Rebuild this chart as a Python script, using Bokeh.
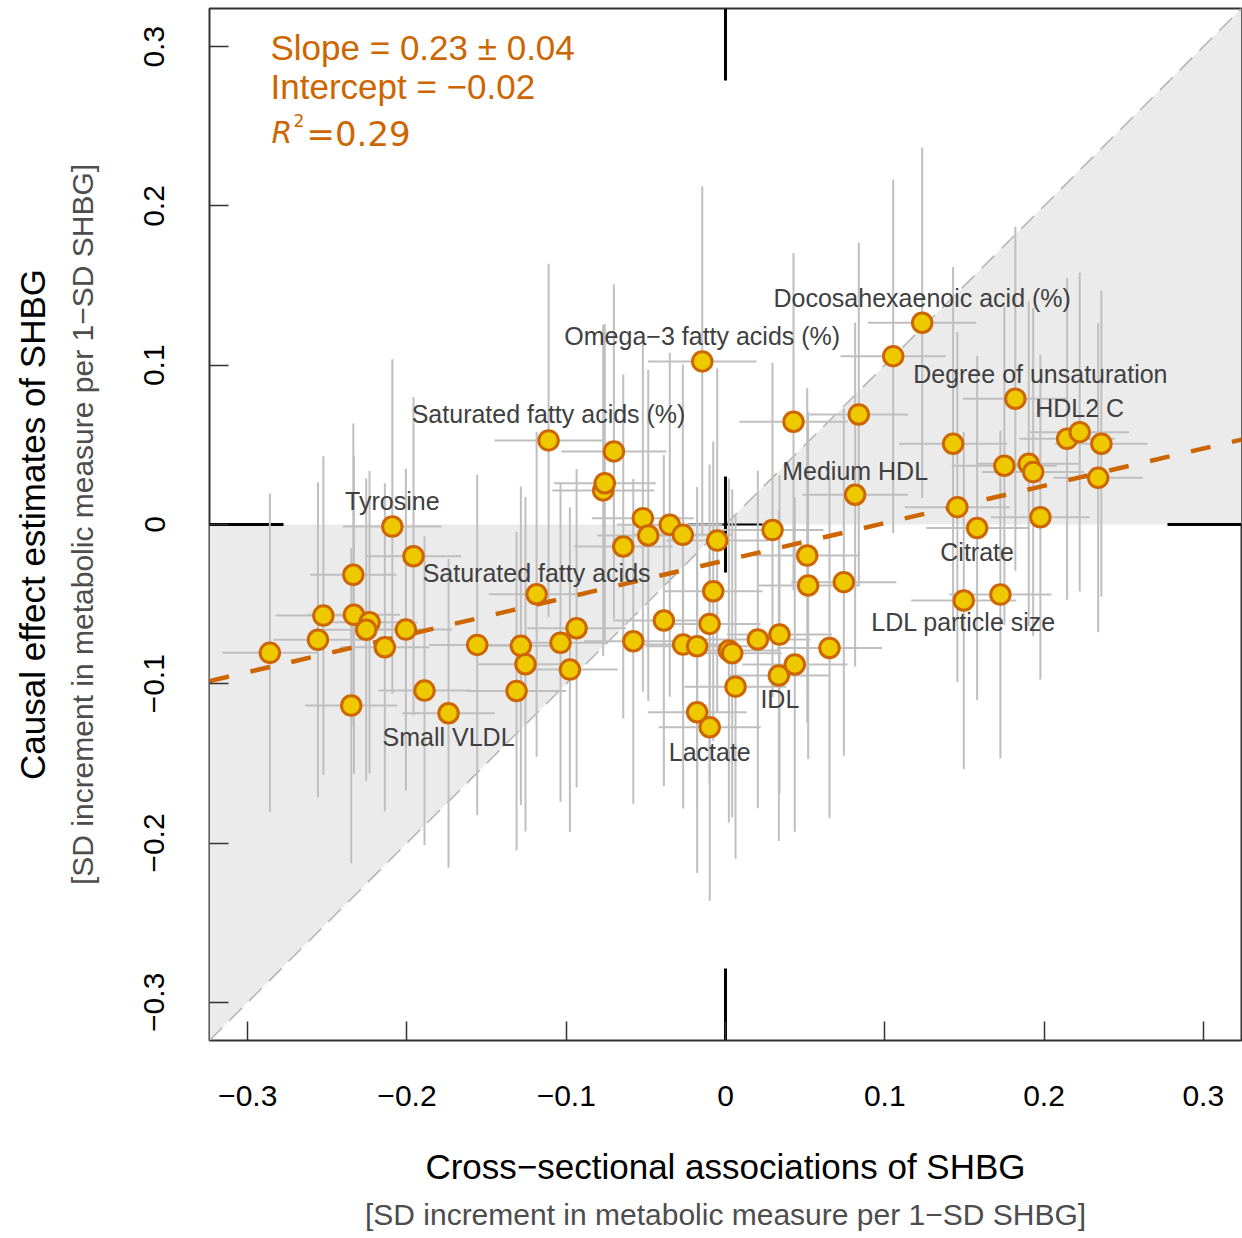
from bokeh.plotting import figure
from bokeh.models import Range1d, FixedTicker, CustomJSTickFormatter, Title, Label
from bokeh.core.properties import value
from bokeh.embed import file_html
from bokeh.resources import INLINE

# ---------------- data ----------------
cross_x = [-0.2861, -0.2559, -0.2525, -0.2337, -0.2333, -0.2235, -0.2256, -0.2350, -0.2139, -0.2092,
           -0.1959, -0.2007, -0.1890, -0.1739, -0.1559, -0.1285, -0.1256, -0.1312, -0.1186, -0.1111,
           -0.1036, -0.0935, -0.0977, -0.0701, -0.0768, -0.0758, -0.0579, -0.0519, -0.0642, -0.0485,
           -0.0350, -0.0268, -0.0387, -0.0266, -0.0178, -0.0146, -0.0052, -0.0077, -0.0100, -0.0178,
           -0.0099, 0.0021, 0.0042, 0.0063, 0.0203, 0.0295, 0.0339, 0.0335, 0.0435, 0.0427,
           0.0513, 0.0519, 0.0653, 0.0743, 0.0814, 0.0837, 0.1053, 0.1235, 0.1429, 0.1456,
           0.1580, 0.1496, 0.1726, 0.1751, 0.1820, 0.1904, 0.1932, 0.1977, 0.2145, 0.2224,
           0.2360, 0.2340]
causal_y = [-0.0806, -0.0724, -0.0572, -0.0316, -0.0567, -0.0614, -0.0661, -0.1137, -0.0771, -0.0013,
            -0.0199, -0.0660, -0.1043, -0.1185, -0.0756, -0.0762, -0.0877, -0.1045, -0.0438, 0.0528,
            -0.0743, -0.0651, -0.0911, 0.0459, 0.0214, 0.0259, -0.0733, 0.0040, -0.0138, -0.0069,
            -0.0002, -0.0065, -0.0603, -0.0754, -0.0764, 0.1024, -0.0101, -0.0419, -0.0624, -0.1179,
            -0.1273, -0.0791, -0.0808, -0.1018, -0.0722, -0.0035, -0.0691, -0.0948, -0.0879, 0.0645,
            -0.0195, -0.0383, -0.0775, -0.0362, 0.0187, 0.0691, 0.1057, 0.1267, 0.0507, 0.0109,
            -0.0022, -0.0477, -0.0440, 0.0369, 0.0790, 0.0381, 0.0329, 0.0046, 0.0538, 0.0580,
            0.0507, 0.0293]
cross_err = [0.030, 0.028, 0.030, 0.027, 0.029, 0.030, 0.028, 0.029, 0.028, 0.031,
             0.030, 0.029, 0.029, 0.029, 0.030, 0.031, 0.030, 0.031, 0.030, 0.034,
             0.030, 0.031, 0.030, 0.033, 0.032, 0.032, 0.031, 0.032, 0.031, 0.032,
             0.033, 0.031, 0.032, 0.031, 0.032, 0.034, 0.032, 0.031, 0.032, 0.031,
             0.032, 0.032, 0.031, 0.032, 0.033, 0.032, 0.033, 0.032, 0.033, 0.034,
             0.033, 0.032, 0.033, 0.033, 0.033, 0.031, 0.033, 0.034, 0.034, 0.033,
             0.032, 0.033, 0.032, 0.033, 0.033, 0.032, 0.032, 0.031, 0.030, 0.031,
             0.029, 0.028]
causal_err = [0.100, 0.099, 0.100, 0.095, 0.100, 0.095, 0.095, 0.099, 0.103, 0.105,
              0.100, 0.101, 0.097, 0.097, 0.107, 0.100, 0.105, 0.100, 0.102, 0.111,
              0.100, 0.100, 0.102, 0.105, 0.104, 0.100, 0.102, 0.109, 0.108, 0.104,
              0.108, 0.107, 0.104, 0.103, 0.100, 0.110, 0.108, 0.094, 0.100, 0.101,
              0.109, 0.108, 0.103, 0.108, 0.106, 0.105, 0.100, 0.104, 0.105, 0.106,
              0.105, 0.109, 0.107, 0.109, 0.108, 0.108, 0.111, 0.110, 0.111, 0.110,
              0.108, 0.106, 0.103, 0.100, 0.108, 0.102, 0.103, 0.102, 0.101, 0.100,
              0.096, 0.097]

label_names = ["Tyrosine", "Small VLDL", "Saturated fatty acids", "Saturated fatty acids (%)",
               "Omega\u22123 fatty acids (%)", "Lactate", "IDL", "Medium HDL",
               "Docosahexaenoic acid (%)", "Degree of unsaturation", "HDL2 C", "Citrate",
               "LDL particle size"]
label_point = [9, 13, 18, 19, 35, 40, 47, 54, 57, 64, 69, 60, 61]
# label offsets from their point, in screen pixels (right, up)
label_dx = [0, 0, 0, 0, 0, 0, 1, 0, 0, 25, 0, 0, 0]
label_dy = [26, -24, 21, 26, 25, -25, -24, 24, 25, 25, 24, -24, -22]

fit_slope = 0.234
fit_intercept = -0.0225
x_ticks = [-0.3, -0.2, -0.1, 0.0, 0.1, 0.2, 0.3]
y_ticks = [-0.3, -0.2, -0.1, 0.0, 0.1, 0.2, 0.3]

# ---------------- layout constants ----------------
X_LO, X_HI = -0.324, 0.324
Y_LO, Y_HI = -0.324, 0.324
FRAME_W, FRAME_H = 1032, 1032
PX_X = (X_HI - X_LO) / FRAME_W
PX_Y = (Y_HI - Y_LO) / FRAME_H

ORANGE = "#CD6600"
GOLD = "#EEC900"

p = figure(width=1242, height=1238, x_range=Range1d(X_LO, X_HI), y_range=Range1d(Y_LO, Y_HI),
           output_backend="svg", toolbar_location=None,
           min_border_left=209, min_border_right=1, min_border_top=8, min_border_bottom=198)
p.title.visible = False
p.grid.visible = False
p.outline_line_color = "#333333"
p.outline_line_width = 2
p.background_fill_color = "white"
p.border_fill_color = "white"

fmt = CustomJSTickFormatter(code="""
if (Math.abs(tick) < 1e-9) { return "0"; }
const s = Math.abs(tick).toFixed(1);
return tick < 0 ? "\\u2212" + s : s;
""")

for ax, ticks in ((p.xaxis[0], x_ticks), (p.yaxis[0], y_ticks)):
    ax.ticker = FixedTicker(ticks=ticks)
    ax.formatter = fmt
    ax.axis_line_color = None
    ax.major_tick_in = 19
    ax.major_tick_out = 0
    ax.major_tick_line_color = "#333333"
    ax.major_tick_line_width = 1.5
    ax.minor_tick_line_color = None
    ax.major_label_text_font = "Liberation Sans"
    ax.major_label_text_font_size = "30px"
    ax.major_label_text_color = "black"
    ax.major_label_standoff = 45

p.yaxis[0].major_label_orientation = "vertical"

p.xaxis[0].axis_label = "Cross\u2212sectional associations of SHBG"
p.xaxis[0].axis_label_text_font = "Liberation Sans"
p.xaxis[0].axis_label_text_font_size = "35px"
p.xaxis[0].axis_label_text_font_style = "normal"
p.xaxis[0].axis_label_text_color = "black"
p.xaxis[0].axis_label_standoff = 38

p.yaxis[0].axis_label = "[SD increment in metabolic measure per 1\u2212SD SHBG]"
p.yaxis[0].axis_label_text_font = "Liberation Sans"
p.yaxis[0].axis_label_text_font_size = "30px"
p.yaxis[0].axis_label_text_font_style = "normal"
p.yaxis[0].axis_label_text_color = "#4D4D4D"
p.yaxis[0].axis_label_standoff = 43

p.add_layout(Title(text="[SD increment in metabolic measure per 1\u2212SD SHBG]", align="center",
                   text_font="Liberation Sans", text_font_size="30px", text_font_style="normal",
                   text_color="#4D4D4D", standoff=15), "below")
p.add_layout(Title(text="Causal effect estimates of SHBG", align="center",
                   text_font="Liberation Sans", text_font_size="35px", text_font_style="normal",
                   text_color="black", standoff=21), "left")

# shaded region between y = 0 and y = x
p.patches(xs=[[X_LO, 0, X_LO], [0, X_HI, X_HI]], ys=[[0, 0, Y_LO], [0, 0, Y_HI]],
          fill_color="#EBEBEB", line_color=None)
p.line([X_LO, X_HI], [Y_LO, Y_HI], line_color="#B3B3B3", line_width=1.5, line_dash="18 10")

# black axis cross marks
p.segment(x0=[0, 0, X_LO, X_HI - 74 * PX_X, 0], y0=[Y_HI, Y_LO, 0, 0, -48 * PX_Y],
          x1=[0, 0, X_LO + 74 * PX_X, X_HI, 0], y1=[Y_HI - 72 * PX_Y, Y_LO + 72 * PX_Y, 0, 0, 48 * PX_Y],
          line_color="black", line_width=3)
p.segment(x0=[-38 * PX_X], y0=[0], x1=[37 * PX_X], y1=[0], line_color="black", line_width=2)

# error bars
p.segment(x0=[x - e for x, e in zip(cross_x, cross_err)], y0=causal_y,
          x1=[x + e for x, e in zip(cross_x, cross_err)], y1=causal_y,
          line_color="#BFBFBF", line_width=2)
p.segment(x0=cross_x, y0=[y - e for y, e in zip(causal_y, causal_err)],
          x1=cross_x, y1=[y + e for y, e in zip(causal_y, causal_err)],
          line_color="#BFBFBF", line_width=2)

# regression line
p.line([X_LO, X_HI], [fit_intercept + fit_slope * X_LO, fit_intercept + fit_slope * X_HI],
       line_color=ORANGE, line_width=4.5, line_dash="20 22")

# points
p.scatter(cross_x, causal_y, size=19.5, fill_color=GOLD, line_color=ORANGE, line_width=3)

# point labels
lx = [cross_x[i] + dx * PX_X for i, dx in zip(label_point, label_dx)]
ly = [causal_y[i] + dy * PX_Y for i, dy in zip(label_point, label_dy)]
p.text(x=lx, y=ly, text=label_names, text_align="center", text_baseline="middle",
       text_font=value("Liberation Sans"), text_font_size=value("25px"), text_color="#404040")

# fit annotation
TX = X_LO + 61 * PX_X
p.add_layout(Label(x=TX, y=Y_HI - 39 * PX_Y, text="Slope = 0.23 \u00b1 0.04", text_font="Liberation Sans",
                   text_font_size="35px", text_color=ORANGE, text_baseline="alphabetic"))
p.add_layout(Label(x=TX, y=Y_HI - 78 * PX_Y, text="Intercept = \u22120.02", text_font="Liberation Sans",
                   text_font_size="35px", text_color=ORANGE, text_baseline="alphabetic"))
p.add_layout(Label(x=TX + 1 * PX_X, y=Y_HI - 124 * PX_Y, text="R", text_font="DejaVu Sans",
                   text_font_style="italic", text_font_size="30px", text_color=ORANGE,
                   text_baseline="alphabetic"))
p.add_layout(Label(x=TX + 23 * PX_X, y=Y_HI - 112 * PX_Y, text="2", text_font="DejaVu Sans",
                   text_font_size="17px", text_color=ORANGE, text_baseline="alphabetic"))
p.add_layout(Label(x=TX + 36 * PX_X, y=Y_HI - 125 * PX_Y, text="=0.29", text_font="DejaVu Sans",
                   text_font_size="34px", text_color=ORANGE, text_baseline="alphabetic"))

open("out.html", "w").write(file_html(p, INLINE))
